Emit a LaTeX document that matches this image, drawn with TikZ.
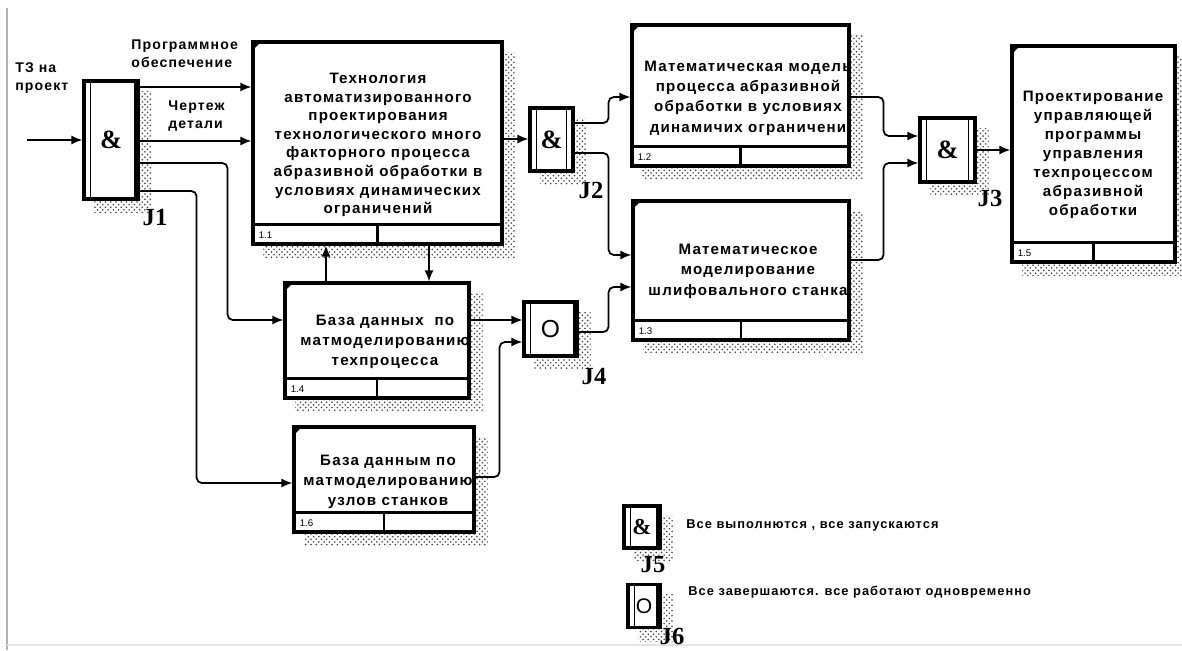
\documentclass[tikz,border=0pt]{standalone}
\usepackage{fontspec}
\setmainfont{Liberation Sans}
\newfontfamily\idf[LetterSpace=8]{Liberation Sans}
\newfontfamily\jserif{Liberation Serif}
\usetikzlibrary{arrows.meta,patterns,backgrounds,calc,positioning}
\tikzset{
  actbox/.style={draw, line width=1.8pt, fill=white, inner sep=0pt},
  jbox/.style={draw, line width=1.8pt, fill=white, inner sep=0pt,
    font=\jserif\bfseries\fontsize{15}{15}\selectfont},
  boxtext/.style={align=center, inner sep=0pt,
    font=\idf\bfseries\fontsize{8.6}{#1}\selectfont},
  boxtext/.default=11.4,
  flowtext/.style={align=left, inner sep=0pt, anchor=west,
    font=\idf\bfseries\fontsize{8}{10.2}\selectfont},
  legtext/.style={inner sep=0pt, anchor=west,
    font=\idf\bfseries\fontsize{7.3}{9}\selectfont},
  numtext/.style={inner sep=0pt, font=\fontsize{5.5}{5.5}\selectfont},
  jlabel/.style={inner sep=0pt, font=\jserif\bfseries\fontsize{14}{14}\selectfont},
  conn/.style={line width=1pt, rounded corners=3pt, -{Latex[length=2.2mm,width=1.8mm]}},
  shadow/.style={pattern=crosshatch dots, pattern color=black!75},
}

\begin{document}
\begin{tikzpicture}[x=0.02cm,y=-0.02cm]
  \useasboundingbox (0,0) rectangle (1182,650);
  \draw[gray!60, line width=0.6pt] (7,8) -- (7,650);
  \draw[gray!20, line width=1pt] (7,645) -- (1182,645);

  % work boxes
  \node[actbox, minimum width=4.98cm, minimum height=4.04cm] (b11) at (377.5,143) {};
  \node[actbox, minimum width=4.34cm, minimum height=2.82cm] (b12) at (740.5,95.5) {};
  \node[actbox, minimum width=4.32cm, minimum height=2.78cm] (b13) at (741,270.5) {};
  \node[actbox, minimum width=3.68cm, minimum height=2.30cm] (b14) at (377,340.5) {};
  \node[actbox, minimum width=3.26cm, minimum height=4.32cm] (b15) at (1093.5,154) {};
  \node[actbox, minimum width=3.60cm, minimum height=2.10cm] (b16) at (384,479.5) {};

  % junctions
  \node[jbox, minimum width=1.08cm, minimum height=2.36cm] (j1) at (111,140) {\&};
  \node[jbox, minimum width=0.86cm, minimum height=1.26cm] (j2) at (551.5,139.5) {\&};
  \node[jbox, minimum width=1.10cm, minimum height=1.28cm] (j3) at (947.5,150) {\&};
  \node[jbox, minimum width=1.06cm, minimum height=1.08cm,
        font=\fontsize{14}{14}\selectfont] (j4) at (550.5,329) {O};
  \node[jbox, minimum width=0.72cm, minimum height=0.84cm,
        font=\jserif\bfseries\fontsize{13}{13}\selectfont] (j5) at (642,527) {\&};
  \node[jbox, minimum width=0.64cm, minimum height=0.86cm,
        font=\fontsize{12}{12}\selectfont] (j6) at (644,606) {O};

  \begin{scope}[on background layer]
    \foreach \b in {b11,b12,b13,b14,b15,b16,j1,j2,j3,j4,j5,j6}
      \fill[shadow] ($(\b.north west)+(12,12)$) rectangle ($(\b.south east)+(12,12)$);
  \end{scope}

  \foreach \j in {j1,j2,j3,j4,j5,j6}
    \draw[line width=1pt] ($(\j.north west)+(8,0)$) -- ($(\j.south west)+(8,0)$);
  \foreach \j in {j2,j3}
    \draw[line width=1pt] ($(\j.north east)+(-8,0)$) -- ($(\j.south east)+(-8,0)$);
  \foreach \j in {j1,j4,j5,j6}
    \draw[line width=3pt] ($(\j.north east)+(-3,1)$) -- ($(\j.south east)+(-3,-1)$);

  \foreach \b/\k in {b11/1.1,b12/1.2,b13/1.3,b14/1.4,b15/1.5,b16/1.6} {
    \draw[line width=1.4pt] ($(\b.south west)+(0,-21)$) -- ($(\b.south east)+(0,-21)$);
    \draw[line width=1.4pt] (\b.south) -- ++(0,-21);
    \node[numtext, anchor=west] at ($(\b.south west)+(7,-10)$) {\k};
    \fill ($(\b.north west)+(1,1)$) -- ++(9,0) -- ++(-9,9) -- cycle;
  }

  \node[boxtext=10.6] (t11) at (378,145) {Технология\\автоматизированного\\проектирования\\технологического много\\факторного процесса\\абразивной обработки в\\условиях динамических\\ограничений};
  \node[boxtext=11.6] (t12) at (748,98) {Математическая модель\\процесса абразивной\\обработки в условиях\\динамичих ограничени};
  \node[boxtext=11.6] (t13) at (748,271) {Математическое\\моделирование\\шлифовального станка};
  \node[boxtext] (t14) at (385,342) {База данных\ \ по\\матмоделированию\\техпроцесса};
  \node[boxtext=10.8] (t15) at (1093,155) {Проектирование\\управляющей\\программы\\управления\\техпроцессом\\абразивной\\обработки};
  \node[boxtext] (t16) at (388,482) {База данным по\\матмоделированию\\узлов станков};

  % junction names
  \node[jlabel] (l1) at (155,217) {J1};
  \node[jlabel] (l2) at (591,190) {J2};
  \node[jlabel] (l3) at (990,198) {J3};
  \node[jlabel] (l4) at (594,377) {J4};
  \node[jlabel] (l5) at (653,565) {J5};
  \node[jlabel] (l6) at (672,636) {J6};

  % arrow labels
  \node[flowtext] (tz) at (15,78) {ТЗ на\\проект};
  \node[flowtext] (po) at (131,54) {Программное\\обеспечение};
  \node[flowtext] (ch) at (168,116) {Чертеж\\детали};

  % legend
  \node[legtext] (g5) at (686,525) {Все выполнются , все запускаются};
  \node[legtext] (g6) at (688,592) {Все завершаются. все работают одновременно};

  % connectors
  \coordinate (tzin) at (27,140);
  \draw[conn] (tzin) -- (j1.west);
  \draw[conn] (j1.east |- 0,87) -- (b11.west |- 0,87);
  \draw[conn] (j1.east |- 0,141) -- (b11.west |- 0,141);
  \draw[conn] (j1.east |- 0,163) -- ++(88,0) |- (b14.west |- 0,320);
  \draw[conn] (j1.east |- 0,191) -- ++(57,0) |- (b16.west |- 0,483);
  \draw[conn] (b11.east |- 0,139) -- (j2.west |- 0,139);
  \draw[conn] (j2.east |- 0,123) -- ++(34,0) |- (b12.west |- 0,97);
  \draw[conn] (j2.east |- 0,153) -- ++(34,0) |- (b13.west |- 0,255);
  \draw[conn] (b12.east |- 0,97) -- ++(33,0) |- (j3.west |- 0,136);
  \draw[conn] (b13.east |- 0,260) -- ++(33,0) |- (j3.west |- 0,163);
  \draw[conn] (j3.east |- 0,150) -- (b15.west |- 0,150);
  \draw[conn] (b14.north -| 326,0) -- (b11.south -| 326,0);
  \draw[conn] (b11.south -| 429,0) -- (b14.north -| 429,0);
  \draw[conn] (b14.east |- 0,320) -- (j4.west |- 0,320);
  \draw[conn] (b16.east |- 0,477) -- ++(24,0) |- (j4.west |- 0,342);
  \draw[conn] (j4.east |- 0,332) -- ++(30,0) |- (b13.west |- 0,287);
\end{tikzpicture}
\end{document}
